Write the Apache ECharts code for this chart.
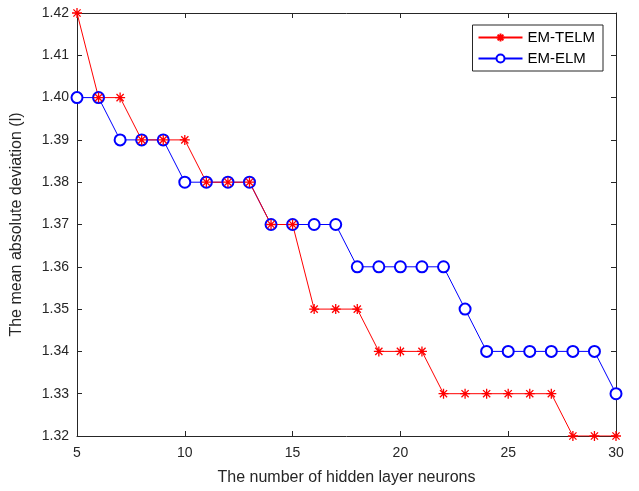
<!DOCTYPE html>
<html>
<head>
<meta charset="utf-8">
<script src="https://cdn.jsdelivr.net/npm/echarts@6/dist/echarts.min.js"></script>
<style>
  html, body { margin: 0; padding: 0; background: #fff; }
  #chart { width: 639px; height: 491px; }
</style>
</head>
<body>
<div id="chart"></div>
<script>
// 隐藏层神经元数
const neurons = [5, 6, 7, 8, 9, 10, 11, 12, 13, 14, 15, 16, 17, 18, 19, 20, 21, 22, 23, 24, 25, 26, 27, 28, 29, 30]
const emTelm = [1.42, 1.40, 1.40, 1.39, 1.39, 1.39, 1.38, 1.38, 1.38, 1.37, 1.37, 1.35, 1.35, 1.35, 1.34, 1.34, 1.34, 1.33, 1.33, 1.33, 1.33, 1.33, 1.33, 1.32, 1.32, 1.32]
const emElm = [1.40, 1.40, 1.39, 1.39, 1.39, 1.38, 1.38, 1.38, 1.38, 1.37, 1.37, 1.37, 1.37, 1.36, 1.36, 1.36, 1.36, 1.36, 1.35, 1.34, 1.34, 1.34, 1.34, 1.34, 1.34, 1.33]

const font = 'Liberation Sans, Arial, sans-serif'
const asterisk = 'path://M0,-5L0,5M-5,0L5,0M-3.6,-3.6L3.6,3.6M-3.6,3.6L3.6,-3.6'

const pair = (ys) => neurons.map((x, i) => [x, ys[i]])

const axisCommon = {
  axisLine: { lineStyle: { color: '#262626', width: 1 } },
  axisTick: { inside: true, length: 5, lineStyle: { color: '#262626' } },
  splitLine: { show: false },
}

const chart = echarts.init(document.getElementById('chart'))
chart.setOption({
  animation: false,
  backgroundColor: '#fff',
  grid: { left: 77, right: 23, top: 13, bottom: 53 },
  legend: {
    data: ['EM-TELM', 'EM-ELM'],
    orient: 'vertical',
    right: 36,
    top: 25,
    itemWidth: 44,
    itemHeight: 10,
    itemGap: 6,
    padding: [5, 8, 5, 5],
    borderColor: '#262626',
    borderWidth: 1,
    backgroundColor: '#fff',
    textStyle: { fontFamily: font, fontSize: 15, color: '#000' },
  },
  xAxis: [
    {
      ...axisCommon,
      type: 'value',
      min: 5,
      max: 30,
      interval: 5,
      name: 'The number of hidden layer neurons',
      nameLocation: 'middle',
      nameGap: 34,
      nameTextStyle: { fontFamily: font, fontSize: 16, color: '#262626' },
      axisLabel: { fontFamily: font, fontSize: 14, color: '#262626', margin: 10 },
    },
    {
      ...axisCommon,
      type: 'value',
      position: 'top',
      min: 5,
      max: 30,
      interval: 5,
      axisLabel: { show: false },
    },
  ],
  yAxis: [
    {
      ...axisCommon,
      type: 'value',
      min: 1.32,
      max: 1.42,
      interval: 0.01,
      name: 'The mean absolute deviation (l)',
      nameLocation: 'middle',
      nameGap: 52,
      nameTextStyle: { fontFamily: font, fontSize: 16, color: '#262626' },
      axisLabel: {
        fontFamily: font,
        fontSize: 14,
        color: '#262626',
        margin: 8,
        formatter: (v) => v.toFixed(2),
      },
    },
    {
      ...axisCommon,
      type: 'value',
      position: 'right',
      min: 1.32,
      max: 1.42,
      interval: 0.01,
      axisLabel: { show: false },
    },
  ],
  series: [
    {
      name: 'EM-ELM',
      type: 'line',
      data: pair(emElm),
      symbol: 'emptyCircle',
      symbolSize: 11,
      lineStyle: { color: '#0000ff', width: 1 },
      itemStyle: { color: '#0000ff', borderColor: '#0000ff', borderWidth: 1 },
    },
    {
      name: 'EM-TELM',
      type: 'line',
      data: pair(emTelm),
      symbol: asterisk,
      symbolSize: 10,
      lineStyle: { color: '#ff0000', width: 1 },
      itemStyle: { color: '#ff0000', borderColor: '#ff0000', borderWidth: 1.3 },
    },
  ],
})
</script>
</body>
</html>
